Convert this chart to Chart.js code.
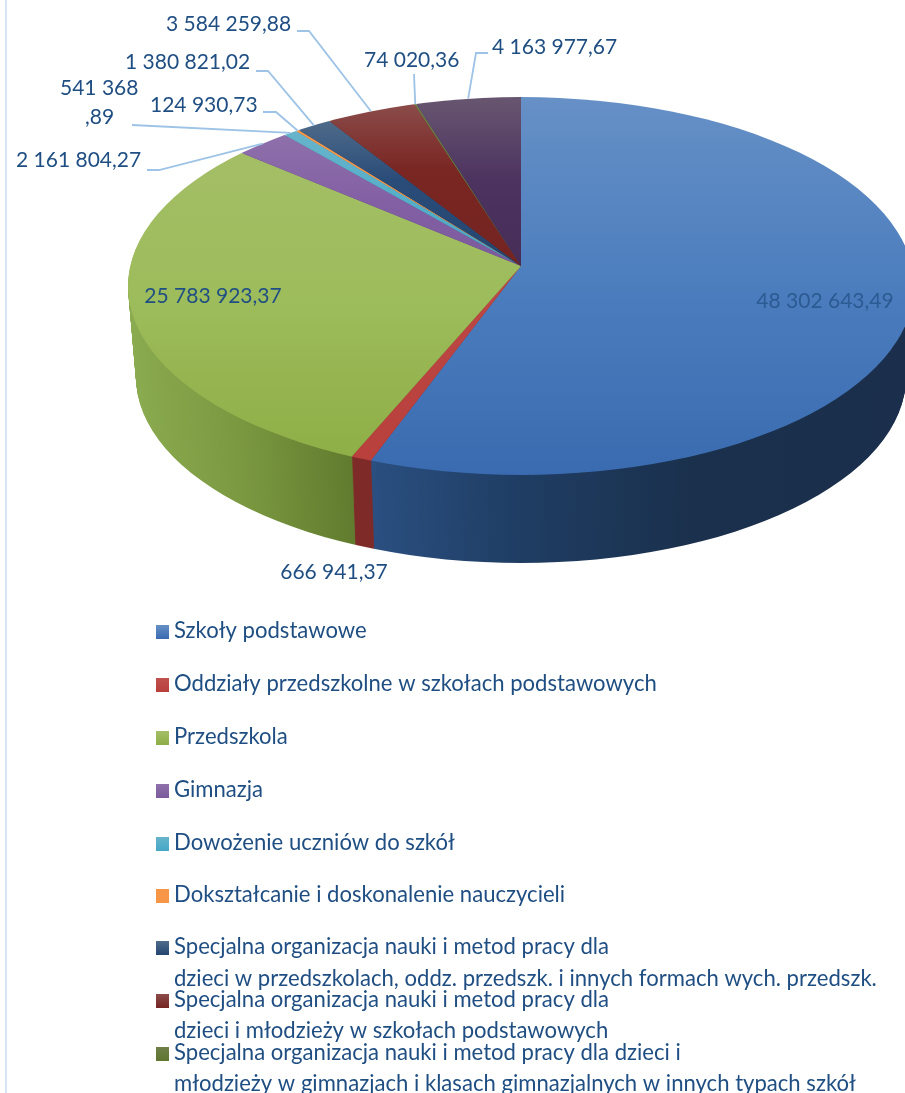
<!DOCTYPE html>
<html><head><meta charset="utf-8">
<style>html,body{margin:0;padding:0;background:#fff;overflow:hidden}canvas{display:block}</style>
<script src="https://cdn.jsdelivr.net/npm/chart.js@4"></script></head>
<body><canvas id="c" width="905" height="1093"></canvas>
<script>
const categories = ["Szkoły podstawowe","Oddziały przedszkolne w szkołach podstawowych","Przedszkola","Gimnazja","Dowożenie uczniów do szkół","Dokształcanie i doskonalenie nauczycieli","Specjalna organizacja nauki i metod pracy dla dzieci w przedszkolach, oddz. przedszk. i innych formach wych. przedszk.","Specjalna organizacja nauki i metod pracy dla dzieci i młodzieży w szkołach podstawowych","Specjalna organizacja nauki i metod pracy dla dzieci i młodzieży w gimnazjach i klasach gimnazjalnych w innych typach szkół","Pozostałe"];
const values = [48302643.49,666941.37,25783923.37,2161804.27,541368.89,124930.73,1380821.02,3584259.88,74020.36,4163977.67];
const valueLabels = ["48 302 643,49","666 941,37","25 783 923,37","2 161 804,27","541 368,,89","124 930,73","1 380 821,02","3 584 259,88","74 020,36","4 163 977,67"];
const legendRows = [
 [0,["Szkoły podstawowe"]],
 [1,["Oddziały przedszkolne w szkołach podstawowych"]],
 [2,["Przedszkola"]],
 [3,["Gimnazja"]],
 [4,["Dowożenie uczniów do szkół"]],
 [5,["Dokształcanie i doskonalenie nauczycieli"]],
 [6,["Specjalna organizacja nauki i metod pracy dla","dzieci w przedszkolach, oddz. przedszk. i innych formach wych. przedszk."]],
 [7,["Specjalna organizacja nauki i metod pracy dla","dzieci i młodzieży w szkołach podstawowych"]],
 [8,["Specjalna organizacja nauki i metod pracy dla dzieci i","młodzieży w gimnazjach i klasach gimnazjalnych w innych typach szkół"]]
];
const baseColors = ["#4a7ebb","#be4b48","#98b954","#7d60a0","#46aac5","#f79646","#2c4d75","#772c2a","#5f7530","#4d3b62"];

// styling only ---------------------------------------------------------
const FONT = '21px Lato, Carlito, sans-serif';
const LEGEND_FONT = '22.1px Lato, Carlito, sans-serif';
const TEXT = '#1f4e83';
const LEADER = '#9dc3e6';
const APEX = {x:521,y:266}, TOP = {x:521,y:286,rx:393,ry:189}, BOTTOM = {x:521,y:377,rx:385,ry:186}, DEPTH = 88, OVER = 1.35;
const topStops = [
 [[97,"#6690c6"],[300,"#4a7cbd"],[475,"#3a6bb0"]],
 [[97,"#c0504d"],[470,"#b83f3c"]],
 [[150,"#a4be66"],[300,"#9dbc5b"],[460,"#8eae47"]],
 [[130,"#8f71ab"],[200,"#8360a4"],[266,"#7a5a9c"]],
 [[130,"#67b4cb"],[266,"#45a8c6"]],
 [[130,"#f79646"],[266,"#f79646"]],
 [[120,"#4f6b8a"],[180,"#2a4c78"],[266,"#234570"]],
 [[104,"#8a4c4a"],[170,"#7a2623"],[266,"#752421"]],
 [[104,"#6f7f48"],[266,"#5f7530"]],
 [[97,"#685670"],[180,"#4c3360"],[266,"#472d58"]]
];
const sideStops = [
 [[372,"#2a4f80"],[520,"#1f3d63"],[700,"#1a304c"],[905,"#1b2f4c"]],
 [[350,"#7e2a28"],[372,"#7e2a28"]],
 [[128,"#8bab50"],[240,"#7a9840"],[350,"#627c2f"]],
 [[128,"#5d4778"],[300,"#5d4778"]],
 [[128,"#327f94"],[300,"#327f94"]],
 [[128,"#b96f33"],[300,"#b96f33"]],
 [[128,"#1f3958"],[300,"#1f3958"]],
 [[128,"#591f1e"],[300,"#591f1e"]],
 [[128,"#475724"],[300,"#475724"]],
 [[128,"#392b49"],[300,"#392b49"]]
];
// label text placement and leader elbows (start → elbow → slice edge)
const labelLayout = [
 {x:825,y:301,color:'#2c5a92',center:true},
 {x:334,y:572,center:true},
 {x:213,y:296,center:true},
 {x:16,y:160,path:[[147,170],[159,170]]},
 {x:60,y:88,lines:["541 368",",89"],lineX:[60,85],lineY:[88,117],path:[[132,125]]},
 {x:150,y:105,path:[[263,112],[276,112]]},
 {x:125,y:62,path:[[256,71],[268,71]]},
 {x:166,y:24,path:[[297,31],[309,31]]},
 {x:364,y:60,path:[[414,74]]},
 {x:492,y:47,path:[[488,53],[476,53]]}
];
const legendY = [631,684,737,790,843,895,[947,979],[1000,1031],[1053,1084]];

const pie3d = {
 id:'pie3d',
 beforeDraw(chart){
  const c=chart.ctx; c.save(); c.fillStyle='#d6e4f4'; c.fillRect(5,0,2,1093); c.restore();
 },
 beforeDatasetsDraw(chart){
  const ctx=chart.ctx, arcs=chart.getDatasetMeta(0).data, a0=arcs[0];
  const R=a0.outerRadius, sx=TOP.rx*OVER/R, sy=TOP.ry*OVER/R;
  const ux=X=>a0.x+(X-APEX.x)/sx, uy=Y=>a0.y+(Y-APEX.y)/sy;
  const grad=(stops,axis)=>{
   const a=stops[0][0], b=stops[stops.length-1][0];
   const g= axis==='x'? ctx.createLinearGradient(ux(a),0,ux(b),0): ctx.createLinearGradient(0,uy(a),0,uy(b));
   stops.forEach(s=>g.addColorStop((s[0]-a)/(b-a),s[1]));
   return g;
  };
  const tops=topStops.map(s=>grad(s,'y')), sides=sideStops.map(s=>grad(s,'x'));
  const layer=(d,fills)=>{
   const f=d/DEPTH;
   const cy=TOP.y+(BOTTOM.y-TOP.y)*f, rx=TOP.rx+(BOTTOM.rx-TOP.rx)*f, ry=TOP.ry+(BOTTOM.ry-TOP.ry)*f;
   ctx.save();
   ctx.beginPath(); ctx.ellipse(TOP.x,cy,rx,ry,0,0,Math.PI*2); ctx.clip();
   ctx.translate(APEX.x,APEX.y+d); ctx.scale(sx*rx/TOP.rx,sy); ctx.translate(-a0.x,-a0.y);
   arcs.forEach((arc,i)=>{
    const o=arc.options;
    arc.options=Object.assign({},o,{backgroundColor:fills[i],borderWidth:0});
    arc.draw(ctx);
    arc.options=o;
   });
   ctx.restore();
  };
  for(let d=DEPTH;d>=1;d--) layer(d,sides);
  layer(0,tops);
  return false;
 },
 afterDraw(chart){
  const ctx=chart.ctx, arcs=chart.getDatasetMeta(0).data;
  ctx.save();
  ctx.font=FONT; ctx.textBaseline='middle'; ctx.textAlign='left';
  // leaders
  ctx.strokeStyle=LEADER; ctx.lineWidth=1.8;
  labelLayout.forEach((L,i)=>{
   if(!L.path) return;
   const arc=arcs[i], m=(arc.startAngle+arc.endAngle)/2;
   const dx=Math.cos(m)*TOP.rx, dy=Math.sin(m)*TOP.ry;
   const oy=APEX.y-TOP.y;
   const A=dx*dx/(TOP.rx*TOP.rx)+dy*dy/(TOP.ry*TOP.ry), B=2*oy*dy/(TOP.ry*TOP.ry), C=oy*oy/(TOP.ry*TOP.ry)-1;
   const t=(-B+Math.sqrt(B*B-4*A*C))/(2*A);
   ctx.beginPath();
   L.path.forEach((p,k)=>k?ctx.lineTo(p[0],p[1]):ctx.moveTo(p[0],p[1]));
   ctx.lineTo(APEX.x+dx*t,APEX.y+dy*t);
   ctx.stroke();
  });
  // value labels
  labelLayout.forEach((L,i)=>{
   ctx.fillStyle=L.color||TEXT;
   if(L.lines){ L.lines.forEach((s,k)=>ctx.fillText(s,L.lineX[k],L.lineY[k])); return; }
   ctx.textAlign=L.center?'center':'left';
   ctx.fillText(valueLabels[i],L.x,L.y);
   ctx.textAlign='left';
  });
  // legend
  ctx.font=LEGEND_FONT;
  legendRows.forEach((row,r)=>{
   const idx=row[0], ys=[].concat(legendY[r]);
   const g=ctx.createLinearGradient(0,ys[0]-6,0,ys[0]+8);
   const st=topStops[idx]; g.addColorStop(0,st[0][1]); g.addColorStop(1,st[st.length-1][1]);
   ctx.fillStyle=g; ctx.fillRect(156,ys[0]-6,13,14);
   ctx.fillStyle=TEXT;
   row[1].forEach((s,k)=>ctx.fillText(s,174,ys[k]));
  });
  ctx.restore();
 }
};
new Chart(document.getElementById('c'),{
 type:'pie',
 data:{labels:categories,datasets:[{data:values,backgroundColor:baseColors,borderWidth:0}]},
 options:{responsive:false,animation:false,events:[],plugins:{legend:{display:false},tooltip:{enabled:false}}},
 plugins:[pie3d]
});
</script></body></html>
